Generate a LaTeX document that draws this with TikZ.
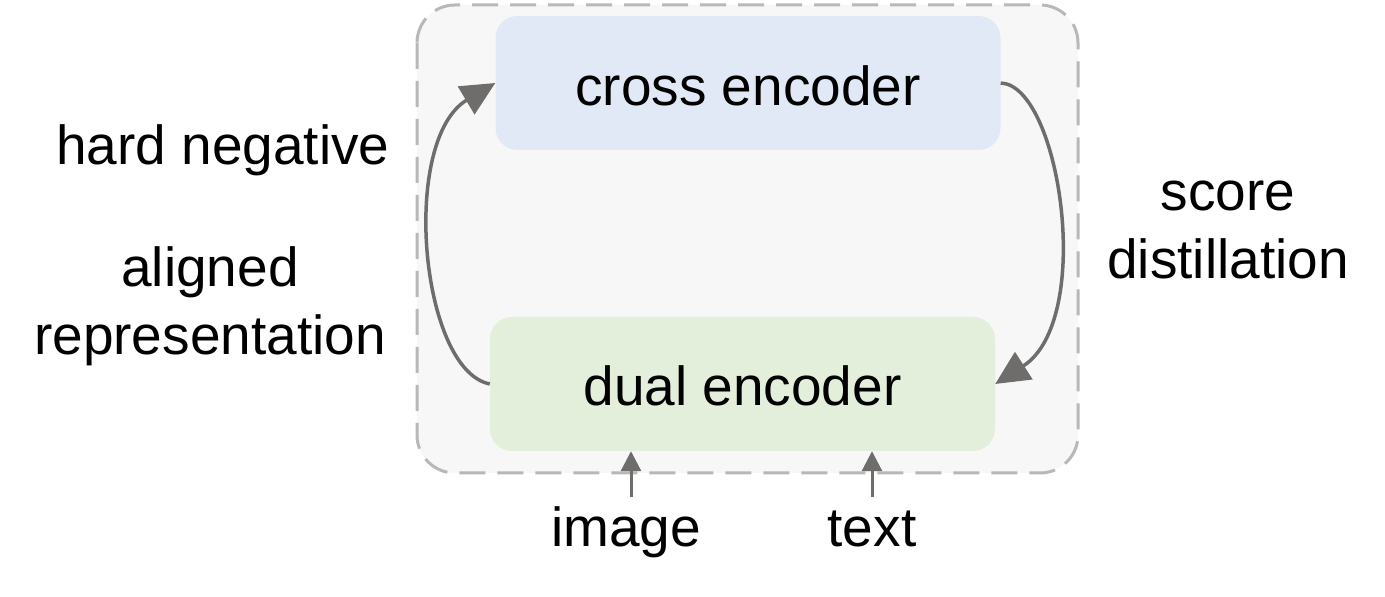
\documentclass[tikz,border=0pt]{standalone}
\usepackage{fontspec}
\setmainfont{Liberation Sans}
\usetikzlibrary{arrows.meta}
\definecolor{panelgray}{HTML}{F7F7F7}
\definecolor{dashgray}{HTML}{B8B8B8}
\definecolor{crossblue}{HTML}{E2E9F6}
\definecolor{dualgreen}{HTML}{E3EFDA}
\definecolor{arrowgray}{HTML}{6F6C6C}
\begin{document}
\begin{tikzpicture}[x=1pt,y=1pt,
    encbox/.style={rounded corners=22pt,minimum width=505pt,minimum height=134pt,inner sep=0pt},
    lbl/.style={font=\fontsize{55}{66}\selectfont,align=center,inner sep=0pt},
    loop arrow/.style={arrowgray,line width=3.5pt,-{Triangle[length=34pt,width=32pt]}},
    input arrow/.style={arrowgray,line width=3pt,-{Triangle[length=20pt,width=20pt]}}]
  \useasboundingbox (0,0) rectangle (1385,597);
  % outer panel
  \draw[dashgray,fill=panelgray,line width=3pt,dash pattern=on 26pt off 12pt,rounded corners=38pt]
    (417,592) rectangle (1078,124);
  % the two encoders
  \node[encbox,fill=crossblue] (cross) at (748,514) {};
  \node[lbl] at ([yshift=-3pt]cross.center) {cross encoder};
  \node[encbox,fill=dualgreen] (dual) at (742.5,213) {};
  \node[lbl] at ([yshift=-2pt]dual.center) {dual encoder};
  % side labels
  \node[lbl] (hardneg) at (223,447) {hard negative};
  \node[lbl] (aligned) at (210,291) {aligned\\[2pt]representation};
  \node[lbl] (distill) at (1228,367) {score\\[2pt]distillation};
  % inputs
  \node[lbl,anchor=base] (image) at (626,50) {image};
  \node[lbl,anchor=base] (text) at (872,50) {text};
  \coordinate (imgtail) at (631,100);
  \coordinate (txttail) at (872,100);
  % arrows
  \draw[loop arrow] (dual.west) .. controls (420,227) and (400,457) .. (cross.west);
  \draw[loop arrow] (cross.east) .. controls (1060,512) and (1095,277) .. (dual.east);
  \draw[input arrow] (imgtail) -- (imgtail |- dual.south);
  \draw[input arrow] (txttail) -- (txttail |- dual.south);
\end{tikzpicture}
\end{document}
